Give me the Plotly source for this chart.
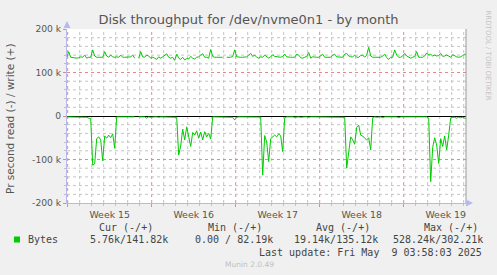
import pandas as pd
import plotly.graph_objects as go

# ---------------- data ----------------
# 4-hour samples (Munin "by month" view)
sample_start = "2025-04-06 22:00"
sample_count = 201
sample_freq = "4h"

# write throughput (bytes/s, in thousands), plotted upward
write_k = [
    135, 148, 135, 134, 134, 133, 134, 136, 135, 140,
    133, 135, 135, 152, 138, 135, 135, 135, 135, 148,
    138, 135, 140, 136, 135, 136, 135, 140, 135, 135,
    135, 135, 136, 140, 133, None, 133, 148, 136, 135,
    140, 138, 133, 135, 133, 130, 136, 133, 136, 140,
    143, 135, 133, 135, 128, 142, 133, 130, 135, 129,
    132, 131, 137, 133, 131, 135, 136, 140, 143, 135,
    135, 133, 153, 137, 135, 135, 135, 135, 135, None,
    135, 135, 135, 137, 152, 136, 135, 135, 135, 135,
    136, 140, 144, 137, 140, 135, 133, 136, 135, 140,
    136, 133, 136, 141, 137, 136, 136, 135, 137, 142,
    136, 135, 135, 135, 135, 142, 140, 134, 133, 135,
    137, 146, 133, 136, 135, 135, 135, 138, 142, 135,
    135, 135, 135, 140, 142, 136, 136, 135, 135, 142,
    144, 138, 136, 136, 140, 135, 135, 139, 140, 135,
    140, 158, 138, 135, 135, 135, 135, 135, 138, 142,
    134, 130, 135, 135, 152, 140, 135, 135, 138, 144,
    138, 135, 133, 135, 137, 148, 135, 135, 135, 138,
    145, 140, 142, 138, 140, 138, 139, 144, 137, 138,
    140, 138, 135, 141, 138, 136, 135, 136, 139, 142,
    141.82,
]

# read throughput (bytes/s, in thousands), plotted downward
read_k = [
    2, 2, 1.5, 2, 2.5, 2, 3, 2, 2, 2.5,
    3, 5, 6, 113, 110, 52, 48, 55, 103, 46,
    51, 44, 50, 41, 74, 2, 2, 1.5, 2, 2,
    3, 2, 2, 2, 2, None, 2, 2, 3, 2,
    5, 2, 3, 2, 2, 2, 3, 2, 2, 2,
    2, 3, 2, 2, 2, 3, 90, 69, 30, 55,
    25, 45, 70, 38, 44, 34, 51, 37, 55, 36,
    48, 40, 53, 2, 2, 1.5, 1.5, 1.5, 2, 2,
    2, 3, 2, 3, 9, 3, 2, 2, 2, 2.5,
    2, 2, 2, 2, 2, 2, 2, 2.5, 136, 45,
    60, 105, 52, 48, 44, 48, 41, 46, 82, 4,
    2, 2, 1.5, 2, 3, 2, 2, 3, 2, 2,
    2, 3, 2, 2, 2, 2.5, 2, 2, 2, 2,
    3, 2, 2, 2, 2, 2.5, 2, 2, 2, 3,
    120, 78, 48, 55, 65, 26, 21, 44, 46, 51,
    55, 50, 78, 4, 2, 3, 2, 2, 4, 2,
    2, 2, 3, 2, 2, 2, 4, 2, 2, 2,
    2, 3, 2, 2, 2, 2, 3, 2, 2, 2,
    2, 5, 151, 72, 50, 67, 109, 52, 70, 46,
    78, 44, 4, 3, 3, 5, 3, 4, 3, 5,
    5.76,
]

y_tick_vals = [-200000, -100000, 0, 100000, 200000]
y_tick_text = ["-200 k", "-100 k", "0", "100 k", "200 k"]

title_text = "Disk throughput for /dev/nvme0n1 - by month"
y_title = "Pr second read (-) / write (+)"
series_name = "Bytes"
stat_headers = ["Cur (-/+)", "Min (-/+)", "Avg (-/+)", "Max (-/+)"]
stat_values = ["5.76k/141.82k", "0.00 / 82.19k", "19.14k/135.12k", "528.24k/302.21k"]
last_update = "Last update: Fri May\u00a0\u00a09 03:58:03 2025"
side_text = "RRDTOOL / TOBI OETIKER"
footer_text = "Munin 2.0.49"

x_range = ["2025-04-06 22:36", "2025-05-10 04:36"]
week_start = "2025-04-07"

# ---------------- figure ----------------
W, H = 497, 275
L, R, T, B = 67, 31, 29, 72
PW, PH = W - L - R, H - T - B


def px(x):
    return (x - L) / PW


def py(y):
    return (H - B - y) / PH


times = pd.date_range(sample_start, periods=sample_count, freq=sample_freq)
write_vals = [None if v is None else v * 1000 for v in write_k]
read_vals = [None if v is None else -v * 1000 for v in read_k]

GREEN = "#00cc00"
RED_GRID = "#e48a8a"
GREY_GRID = "#c4c4c4"
AXIS = "#b8b8f0"
TXT = "#555555"
MONO = "DejaVu Sans Mono"

fig = go.Figure()
fig.add_trace(go.Scatter(x=times, y=read_vals, mode="lines",
                         line=dict(color=GREEN, width=1), showlegend=False,
                         hoverinfo="skip", connectgaps=False))
fig.add_trace(go.Scatter(x=times, y=write_vals, mode="lines",
                         line=dict(color=GREEN, width=1), showlegend=False,
                         hoverinfo="skip", connectgaps=False))

fig.update_layout(
    width=W, height=H,
    margin=dict(l=L, r=R, t=T, b=B, pad=0),
    paper_bgcolor="#f0f0f0", plot_bgcolor="white",
    font=dict(family="DejaVu Sans", color=TXT),
    title=dict(text=title_text, x=0.5, xref="container", xanchor="center",
               y=1 - 19 / H, yref="container", yanchor="middle",
               font=dict(size=13, color=TXT)),
    xaxis=dict(
        type="date", range=x_range, tick0=week_start, dtick=7 * 86400000,
        ticklabelmode="period", tickformat="Week %V",
        showgrid=False,
        ticks="outside", ticklen=3, tickcolor="#e08a8a",
        showline=True, linecolor=AXIS, linewidth=1, zeroline=False,
        tickfont=dict(size=9.4, color=TXT), fixedrange=True,
        minor=dict(tick0=week_start, dtick=86400000, showgrid=False,
                   ticks="outside", ticklen=2, tickcolor="#c0c0c0"),
    ),
    yaxis=dict(
        range=[-200000, 200000], tickmode="array",
        tickvals=y_tick_vals, ticktext=y_tick_text,
        showgrid=True, gridcolor=RED_GRID, griddash="dot", gridwidth=1,
        ticks="outside", ticklen=3, tickcolor="#e08a8a",
        showline=True, linecolor=AXIS, linewidth=1,
        zeroline=True, zerolinecolor="black", zerolinewidth=1,
        tickfont=dict(size=9.2, color=TXT), fixedrange=True,
        minor=dict(tickmode="linear", tick0=0, dtick=20000, showgrid=False,
                   ticks="outside", ticklen=2, tickcolor="#c0c0c0"),
    ),
)

# grid lines following the axis spacing (1 day / 1 week / 20 k)
t_lo, t_hi = pd.Timestamp(x_range[0]), pd.Timestamp(x_range[1])
wk0 = pd.Timestamp(week_start)
shapes = []
for d in range(0, 40):
    t = wk0 + pd.Timedelta(days=d)
    if not (t_lo < t < t_hi):
        continue
    shapes.append(dict(type="line", layer="below", xref="x", yref="paper",
                       x0=t, x1=t, y0=0, y1=1,
                       line=dict(color=RED_GRID if d % 7 == 0 else GREY_GRID,
                                 width=1, dash="dot")))
for v in range(-180000, 200000, 20000):
    if v % 100000 == 0:
        continue
    shapes.append(dict(type="line", layer="below", xref="paper", yref="y",
                       x0=0, x1=1, y0=v, y1=v,
                       line=dict(color=GREY_GRID, width=1, dash="dot")))
# right frame line
shapes.append(dict(type="line", xref="paper", yref="paper", x0=1, x1=1, y0=0, y1=1,
                   line=dict(color="#9a9a9a", width=1)))
# legend swatch
shapes.append(dict(type="rect", xref="paper", yref="paper",
                   x0=px(14), x1=px(20), y0=py(242.5), y1=py(236.5),
                   fillcolor=GREEN, line=dict(width=0)))
fig.update_layout(shapes=shapes)

ann = []
ann.append(dict(text=y_title, xref="paper", yref="paper", x=px(10), y=py(119),
                textangle=-90, showarrow=False, font=dict(size=10.5, color=TXT),
                xanchor="center", yanchor="middle"))
ann.append(dict(text=side_text, xref="paper", yref="paper", x=px(487.5), y=py(56),
                textangle=90, showarrow=False, font=dict(size=7, color="#c4c4c4"),
                xanchor="center", yanchor="middle"))
ann.append(dict(text=series_name, xref="paper", yref="paper", x=px(26), y=py(239.5),
                showarrow=False, font=dict(family=MONO, size=10, color="#444"),
                xanchor="left", yanchor="middle"))
header_left = [98, 207, 315, 423]
value_left = [89, 194, 293, 392]
for hx, htxt in zip(header_left, stat_headers):
    ann.append(dict(text=htxt, xref="paper", yref="paper", x=px(hx - 1), y=py(227),
                    showarrow=False, font=dict(family=MONO, size=10, color="#444"),
                    xanchor="left", yanchor="middle"))
for vx, vtxt in zip(value_left, stat_values):
    ann.append(dict(text=vtxt, xref="paper", yref="paper", x=px(vx - 1), y=py(239.5),
                    showarrow=False, font=dict(family=MONO, size=10, color="#444"),
                    xanchor="left", yanchor="middle"))
ann.append(dict(text=last_update, xref="paper", yref="paper", x=px(484), y=py(252),
                showarrow=False, font=dict(family=MONO, size=10, color="#444"),
                xanchor="right", yanchor="middle"))
ann.append(dict(text=footer_text, xref="paper", yref="paper", x=px(249), y=py(264),
                showarrow=False, font=dict(size=7.5, color="#c0c0c0"),
                xanchor="center", yanchor="middle"))
# axis arrows
ann.append(dict(text="", xref="paper", yref="paper", x=0, y=py(21), ax=0, ay=7,
                showarrow=True, arrowhead=2, arrowsize=1.4, arrowwidth=1,
                arrowcolor=AXIS))
ann.append(dict(text="", xref="paper", yref="paper", x=px(473), y=0, ax=-7, ay=0,
                showarrow=True, arrowhead=2, arrowsize=1.4, arrowwidth=1,
                arrowcolor=AXIS))
fig.update_layout(annotations=ann)

fig.write_html("out.html")
